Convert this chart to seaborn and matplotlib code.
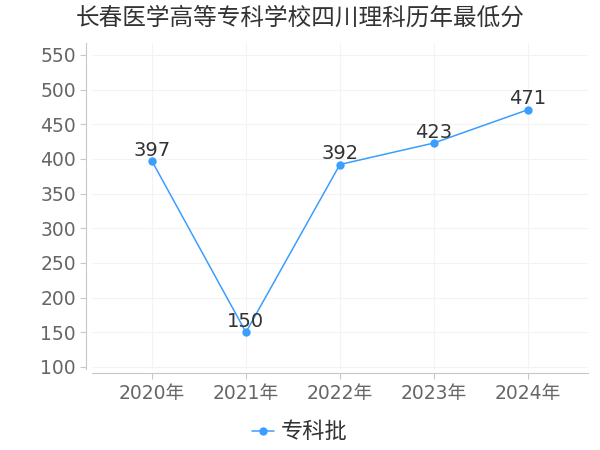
import matplotlib
matplotlib.use("Agg")
import matplotlib.pyplot as plt
import seaborn as sns
import pandas as pd

years = ["2020年", "2021年", "2022年", "2023年", "2024年"]
scores = [397, 150, 392, 423, 471]
series_name = "专科批"
title = "长春医学高等专科学校四川理科历年最低分"

sns.set_style("white")
plt.rcParams['font.family'] = ['DejaVu Sans', 'Noto Sans CJK SC']
cjk = ['Noto Sans CJK SC', 'DejaVu Sans']

df = pd.DataFrame({"year": years, "score": scores, "batch": series_name})

fig = plt.figure(figsize=(6, 4.5), dpi=100)
ax = fig.add_axes([0.153, 0.18, 0.827, 0.724])

line_color = "#3a9eff"
sns.lineplot(data=df, x="year", y="score", hue="batch", palette=[line_color],
             marker="o", markersize=6, markeredgewidth=0, linewidth=1.1, ax=ax)

for i, v in enumerate(scores):
    ax.annotate(str(v), (i, v), xytext=(0, 1), textcoords="offset points",
                ha="center", va="bottom", fontsize=14, color="#333333")

ax.set_ylim(97, 567)
ax.set_xlim(-0.64, 4.64)
ax.set_yticks(range(100, 551, 50))
ax.grid(True, color="#f3f3f3", linewidth=0.8)
ax.set_xlabel("")
ax.set_ylabel("")
fig.text(0.5, 0.96, title, ha="center", va="center", fontsize=17,
         color="#333333", family=cjk)

for s in ["top", "right"]:
    ax.spines[s].set_visible(False)
ax.spines["left"].set_color("#c8c8c8")
ax.spines["bottom"].set_color("#c8c8c8")
ax.spines["left"].set_position(("outward", 4))
ax.spines["bottom"].set_position(("outward", 3))
ax.tick_params(axis="both", colors="#c8c8c8", labelcolor="#666666", labelsize=13.5,
               length=4, left=True, bottom=True)

handles, labels = ax.get_legend_handles_labels()
ax.get_legend().remove()
leg = fig.legend(handles, labels, loc="center", bbox_to_anchor=(0.5, 0.04),
                 frameon=False, fontsize=16, handlelength=1.0, handletextpad=0.3,
                 labelcolor="#333333")
for t in leg.get_texts():
    t.set_family(cjk)

fig.savefig("out.png", dpi=100)
